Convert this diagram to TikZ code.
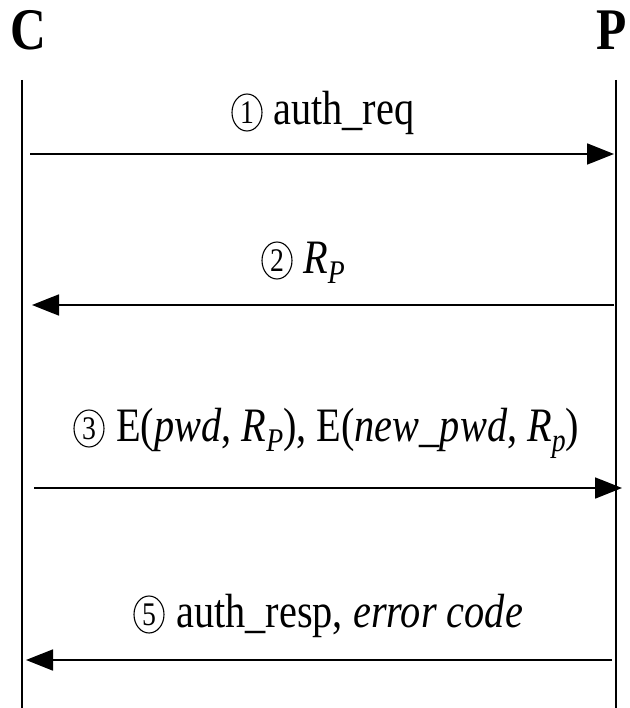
\documentclass[tikz,border=0pt]{standalone}
\usepackage{fontspec}
\setmainfont{Liberation Serif}
\usetikzlibrary{arrows.meta,shapes.geometric,calc}

% narrow, tall type as used throughout the chart
\newcommand\narrow[1]{\scalebox{0.84}[1]{#1}}
% italic index set below the baseline
\newcommand\lowidx[1]{\raisebox{-0.22em}{\fontsize{33}{35}\selectfont\itshape #1}}

\begin{document}
\begin{tikzpicture}[x=1pt,y=-1pt,
  party/.style={font=\fontsize{59}{60}\selectfont\bfseries, inner sep=0pt, anchor=base},
  msg/.style={font=\fontsize{48}{52}\selectfont, inner sep=0pt, anchor=base west},
  stepcirc/.style={ellipse, draw, line width=1.1pt, inner sep=0pt,
    minimum width=30pt, minimum height=37pt, font=\fontsize{33}{35}\selectfont},
  lifeline/.style={line width=1.6pt},
  message/.style={line width=1.8pt, -{Triangle[length=27pt,width=21pt]}}]

\useasboundingbox (0,0) rectangle (629,708);

% participants
\node[party] (C) at (28,50) {\narrow{C}};
\node[party] (P) at (612,50) {\narrow{P}};

% lifelines
\coordinate (Ctop) at (22,80);
\coordinate (Cbot) at (22,708);
\coordinate (Ptop) at (616,80);
\coordinate (Pbot) at (616,708);
\draw[lifeline] (Ctop) -- (Cbot);
\draw[lifeline] (Ptop) -- (Pbot);

% message end points on the lifelines
\coordinate (m1s) at (30,154);  \coordinate (m1e) at (614,154);
\coordinate (m2s) at (614,305); \coordinate (m2e) at (32,305);
\coordinate (m3s) at (34,488);  \coordinate (m3e) at (622,488);
\coordinate (m5s) at (612,660); \coordinate (m5e) at (26,660);

\draw[message] (m1s) -- (m1e);
\draw[message] (m2s) -- (m2e);
\draw[message] (m3s) -- (m3e);
\draw[message] (m5s) -- (m5e);

% message labels, each led by its circled step number
\node[msg] (l1) at (273,125) {\narrow{auth\_req}};
\node[msg] (l2) at (303,273) {\narrow{\textit{R}\lowidx{P}}};
\node[msg] (l3) at (116,441) {\narrow{E(\textit{pwd}, \textit{R}\lowidx{P}), E(\textit{new\_pwd}, \textit{R}\lowidx{p})}};
\node[msg] (l5) at (176,627) {\narrow{auth\_resp, \textit{error code}}};

\node[stepcirc] (s1) at ($(l1.base west)+(-26,-12.5)$) {\narrow{1}};
\node[stepcirc] (s2) at ($(l2.base west)+(-26,-12.5)$) {\narrow{2}};
\node[stepcirc] (s3) at ($(l3.base west)+(-27,-12.5)$) {\narrow{3}};
\node[stepcirc] (s5) at ($(l5.base west)+(-27,-12.5)$) {\narrow{5}};

\end{tikzpicture}
\end{document}
